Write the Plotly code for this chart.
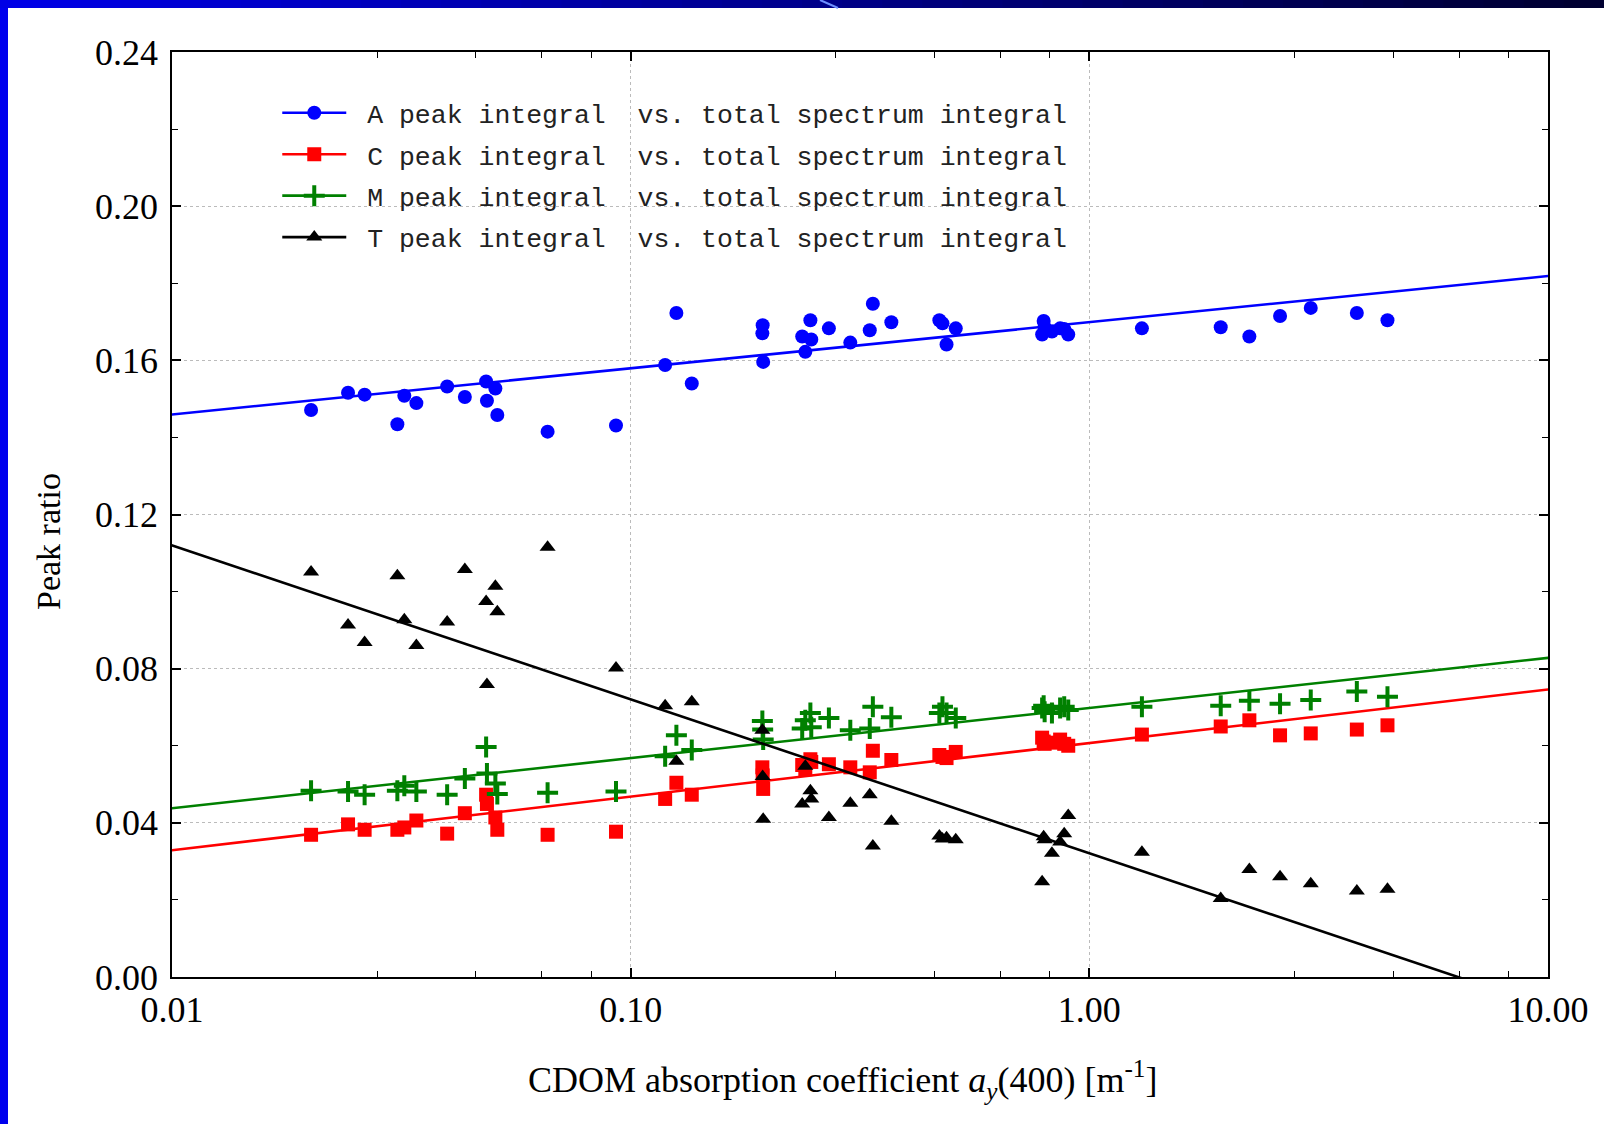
import numpy as np
import plotly.graph_objects as go

# CDOM absorption coefficient a_y(400) [m^-1] for each sample
cdom = [0.0201, 0.0242, 0.0263, 0.0310, 0.0321, 0.0341, 0.0398, 0.0435, 0.0484, 0.0486,
        0.0507, 0.0512, 0.0659, 0.0929, 0.1189, 0.1258, 0.1359, 0.1937, 0.1940, 0.1945,
        0.2366, 0.2403, 0.2465, 0.2476, 0.2705, 0.3012, 0.3321, 0.3373, 0.3701, 0.4710,
        0.4784, 0.4883, 0.5114, 0.7890, 0.7951, 0.7990, 0.8288, 0.8636, 0.8815, 0.8995,
        1.302, 1.934, 2.233, 2.605, 3.039, 3.830, 4.467]

peak_A = [0.1471, 0.1516, 0.1511, 0.1434, 0.1508, 0.1489, 0.1532, 0.1505, 0.1545, 0.1495,
          0.1527, 0.1458, 0.1415, 0.1431, 0.1588, 0.1723, 0.1540, 0.1670, 0.1691, 0.1596,
          0.1662, 0.1622, 0.1704, 0.1654, 0.1683, 0.1646, 0.1678, 0.1747, 0.1699, 0.1704,
          0.1696, 0.1641, 0.1683, 0.1667, 0.1702, 0.1686, 0.1675, 0.1683, 0.1681, 0.1667,
          0.1683, 0.1686, 0.1662, 0.1715, 0.1736, 0.1723, 0.1704]

peak_C = [0.0369, 0.0396, 0.0382, 0.0382, 0.0388, 0.0406, 0.0372, 0.0425, 0.0473, 0.0449,
          0.0414, 0.0382, 0.0369, 0.0377, 0.0462, 0.0504, 0.0473, 0.0544, 0.0523, 0.0488,
          0.0550, 0.0539, 0.0565, 0.0558, 0.0552, 0.0544, 0.0531, 0.0587, 0.0563, 0.0576,
          0.0571, 0.0568, 0.0584, 0.0621, 0.0611, 0.0605, 0.0608, 0.0616, 0.0605, 0.0600,
          0.0629, 0.0650, 0.0666, 0.0627, 0.0632, 0.0642, 0.0653]

peak_M = [0.0483, 0.0481, 0.0473, 0.0483, 0.0496, 0.0481, 0.0473, 0.0515, 0.0597, 0.0528,
          0.0502, 0.0475, 0.0478, 0.0481, 0.0573, 0.0627, 0.0589, 0.0664, 0.0642, 0.0616,
          0.0645, 0.0666, 0.0685, 0.0648, 0.0672, 0.0640, 0.0645, 0.0701, 0.0674, 0.0685,
          0.0701, 0.0685, 0.0672, 0.0698, 0.0704, 0.0688, 0.0685, 0.0698, 0.0701, 0.0693,
          0.0701, 0.0704, 0.0717, 0.0709, 0.0719, 0.0741, 0.0727]

peak_T = [0.1051, 0.0913, 0.0868, 0.1041, 0.0927, 0.0860, 0.0921, 0.1057, 0.0974, 0.0759,
          0.1014, 0.0948, 0.1115, 0.0802, 0.0704, 0.0560, 0.0714, 0.0640, 0.0520, 0.0409,
          0.0449, 0.0547, 0.0483, 0.0462, 0.0414, 0.0451, 0.0473, 0.0340, 0.0404, 0.0366,
          0.0358, 0.0361, 0.0356, 0.0247, 0.0364, 0.0356, 0.0321, 0.0350, 0.0372, 0.0419,
          0.0324, 0.0204, 0.0279, 0.0260, 0.0242, 0.0223, 0.0228]

# Regression lines: ratio = intercept + slope * log10(a_y)
fit_intercept = [0.1699, 0.0607, 0.0698, 0.0321]
fit_slope = [0.01197, 0.0139, 0.0130, -0.03994]

series_names = [
    "\u00a0A peak integral\u00a0 vs. total spectrum integral",
    "\u00a0C peak integral\u00a0 vs. total spectrum integral",
    "\u00a0M peak integral\u00a0 vs. total spectrum integral",
    "\u00a0T peak integral\u00a0 vs. total spectrum integral",
]
series_values = [peak_A, peak_C, peak_M, peak_T]
colors = ["#0000ff", "#ff0000", "#008000", "#000000"]
symbols = ["circle", "square", "cross-thin", "triangle-up"]
sizes = [14, 14, 15, 14]

x_tickvals = [0.01, 0.1, 1, 10]
x_ticktext = ["0.01", "0.10", "1.00", "10.00"]
x_minor = [m * d for d in (0.01, 0.1, 1) for m in (2.8, 4.6, 6.4, 8.2)]
y_tickvals = [0.00, 0.04, 0.08, 0.12, 0.16, 0.20, 0.24]
y_ticktext = ["0.00", "0.04", "0.08", "0.12", "0.16", "0.20", "0.24"]

W, H = 1604, 1124
L, R, T, B = 172, 56, 52, 147
pw, ph = W - L - R, H - T - B

fig = go.Figure()

line_x = np.array([0.001, 100.0])
for i in range(4):
    yfit = fit_intercept[i] + fit_slope[i] * np.log10(line_x)
    fig.add_trace(go.Scatter(
        x=line_x, y=yfit, mode="lines+markers", name=series_names[i],
        legendgroup=f"g{i}",
        line=dict(color=colors[i], width=2.6),
        marker=dict(symbol=symbols[i], color=colors[i], size=sizes[i],
                    line=dict(color=colors[i], width=4 if symbols[i] == "cross-thin" else 0)),
        cliponaxis=True, hoverinfo="skip",
    ))
    fig.add_trace(go.Scatter(
        x=cdom, y=series_values[i], mode="markers", showlegend=False,
        legendgroup=f"g{i}",
        marker=dict(symbol=symbols[i], color=colors[i], size=sizes[i],
                    line=dict(color=colors[i], width=4 if symbols[i] == "cross-thin" else 0)),
    ))

serif = "Liberation Serif, Times New Roman, serif"

def px_x(p):
    return (p - L) / pw

def px_y(p):
    return (H - B - p) / ph

shapes = []
# decorative slide frame: left blue bar and top gradient bar
shapes.append(dict(type="rect", xref="paper", yref="paper",
                   x0=px_x(0), x1=px_x(8), y0=px_y(H), y1=px_y(0),
                   fillcolor="#0000ee", line=dict(width=0), layer="above"))
nseg = 40
c0 = np.array([0, 0, 230])
c1 = np.array([0, 0, 50])
for k in range(nseg):
    t = k / (nseg - 1)
    c = (c0 * (1 - t) + c1 * t).astype(int)
    shapes.append(dict(type="rect", xref="paper", yref="paper",
                       x0=px_x(W * k / nseg), x1=px_x(W * (k + 1) / nseg + 1),
                       y0=px_y(8), y1=px_y(0),
                       fillcolor=f"rgb({c[0]},{c[1]},{c[2]})", line=dict(width=0), layer="above"))
shapes.append(dict(type="line", xref="paper", yref="paper",
                   x0=px_x(820), x1=px_x(838), y0=px_y(0), y1=px_y(8),
                   line=dict(color="#6f8fff", width=2), layer="above"))

fig.update_layout(
    width=W, height=H,
    margin=dict(l=L, r=R, t=T, b=B, autoexpand=False),
    paper_bgcolor="white", plot_bgcolor="white",
    font=dict(family=serif, size=36, color="black"),
    showlegend=True,
    legend=dict(x=0.0765, y=0.960, xanchor="left", yanchor="top",
                bgcolor="rgba(0,0,0,0)", borderwidth=0,
                font=dict(family="Liberation Mono, Courier New, monospace", size=26.5, color="#222"),
                itemwidth=64, tracegroupgap=4, traceorder="grouped"),
    shapes=shapes,
    annotations=[
        dict(text="Peak ratio", xref="paper", yref="paper", x=px_x(48), y=px_y(542),
             textangle=-90, showarrow=False, font=dict(family=serif, size=34),
             xanchor="center", yanchor="middle"),
        dict(text="CDOM absorption coefficient <i>a<sub>y</sub></i>(400) [m<sup>-1</sup>]",
             xref="paper", yref="paper", x=px_x(842), y=px_y(1080),
             showarrow=False, font=dict(family=serif, size=36),
             xanchor="center", yanchor="middle"),
    ],
)

fig.update_xaxes(
    type="log", range=[-2, 1],
    tickvals=x_tickvals, ticktext=x_ticktext,
    ticks="inside", ticklen=9, tickwidth=1.5, tickcolor="black",
    showline=True, linecolor="black", linewidth=1.8, mirror="allticks",
    showgrid=True, gridcolor="#bbbbbb", griddash="dot", gridwidth=1.2,
    zeroline=False, ticklabelstandoff=0,
    tickfont=dict(family=serif, size=36),
    minor=dict(tickvals=x_minor, ticks="inside", ticklen=6, tickwidth=1.2,
               tickcolor="black", showgrid=False),
)
fig.update_yaxes(
    range=[0, 0.24],
    tickvals=y_tickvals, ticktext=y_ticktext,
    ticks="inside", ticklen=9, tickwidth=1.5, tickcolor="black",
    showline=True, linecolor="black", linewidth=1.8, mirror="allticks",
    showgrid=True, gridcolor="#bbbbbb", griddash="dot", gridwidth=1.2,
    zeroline=False, ticklabelstandoff=5,
    tickfont=dict(family=serif, size=36),
    minor=dict(dtick=0.02, tick0=0, ticks="inside", ticklen=6, tickwidth=1.2,
               tickcolor="black", showgrid=False),
)

fig.write_html("out.html")
